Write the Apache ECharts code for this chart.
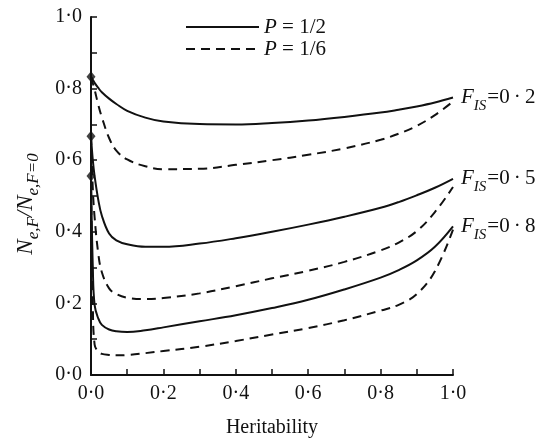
<!DOCTYPE html>
<html>
<head>
<meta charset="utf-8">
<script src="https://cdn.jsdelivr.net/npm/echarts@6/dist/echarts.min.js"></script>
<style>
  html, body { margin: 0; padding: 0; background: #fff; }
  #main { width: 540px; height: 443px; }
</style>
</head>
<body>
<div id="main"></div>
<script>
// heritability values shared by all curves
var herit = [0, 0.005, 0.01, 0.02, 0.03, 0.05, 0.07, 0.1, 0.15, 0.2, 0.3, 0.4, 0.5, 0.6, 0.7, 0.8, 0.85, 0.9, 0.95, 1.0];

// Ne,F / Ne,F=0, P = 1/2 (solid)
var solidF02 = [0.833, 0.825, 0.816, 0.802, 0.790, 0.772, 0.757, 0.738, 0.719, 0.708, 0.701, 0.700, 0.704, 0.711, 0.721, 0.733, 0.741, 0.750, 0.761, 0.775];
var solidF05 = [0.667, 0.600, 0.555, 0.490, 0.445, 0.395, 0.376, 0.365, 0.358, 0.358, 0.367, 0.382, 0.400, 0.420, 0.442, 0.467, 0.483, 0.502, 0.523, 0.548];
var solidF08 = [0.556, 0.300, 0.195, 0.158, 0.140, 0.127, 0.122, 0.120, 0.125, 0.133, 0.150, 0.167, 0.187, 0.210, 0.239, 0.272, 0.293, 0.320, 0.358, 0.415];

// P = 1/6 (dashed)
var dashF02 = [0.833, 0.815, 0.797, 0.755, 0.720, 0.662, 0.627, 0.602, 0.583, 0.575, 0.576, 0.587, 0.600, 0.615, 0.633, 0.657, 0.674, 0.696, 0.726, 0.764];
var dashF05 = [0.667, 0.520, 0.440, 0.340, 0.287, 0.242, 0.226, 0.216, 0.212, 0.215, 0.228, 0.248, 0.270, 0.291, 0.316, 0.348, 0.370, 0.402, 0.455, 0.525];
var dashF08 = [0.556, 0.200, 0.085, 0.065, 0.059, 0.056, 0.055, 0.056, 0.061, 0.067, 0.079, 0.095, 0.113, 0.131, 0.153, 0.180, 0.196, 0.226, 0.290, 0.406];

// values at h2 = 0, 1/(1+F)
var startVals = [0.833, 0.667, 0.556];
var fisLabels = ['0\u2009·\u20092', '0\u2009·\u20095', '0\u2009·\u20098'];
var legendNames = ['P = 1/2', 'P = 1/6'];

var font = 'Liberation Serif';

function pairs(ys) {
  return herit.map(function (h, i) { return [h, ys[i]]; });
}
function dot(v) {
  return v.toFixed(1).replace('.', '·');
}

var fisRich = {
  f: { fontFamily: font, fontStyle: 'italic', fontSize: 21, color: '#111', lineHeight: 24 },
  s: { fontFamily: font, fontStyle: 'italic', fontSize: 15, color: '#111', verticalAlign: 'bottom', lineHeight: 24, padding: [0, 1, -4, 0] },
  n: { fontFamily: font, fontSize: 21, color: '#111', lineHeight: 24 }
};

function solidSeries(ys, k) {
  return {
    name: legendNames[0],
    type: 'line',
    data: pairs(ys),
    symbol: 'none',
    smooth: 0.4,
    itemStyle: { color: '#111' },
    lineStyle: { color: '#111', width: 2, type: 'solid' },
    endLabel: {
      show: true,
      distance: 8,
      formatter: '{f|F}{s|IS}{n|=' + fisLabels[k] + '}',
      rich: fisRich
    },
    z: 3
  };
}
function dashSeries(ys) {
  return {
    name: legendNames[1],
    type: 'line',
    data: pairs(ys),
    symbol: 'none',
    smooth: 0.4,
    itemStyle: { color: '#111' },
    lineStyle: { color: '#111', width: 2, type: [9, 6] },
    z: 2
  };
}

var myChart = echarts.init(document.getElementById('main'));
myChart.setOption({
  animation: false,
  backgroundColor: '#fff',
  grid: { left: 91, right: 87, top: 17, bottom: 62, containLabel: false },
  legend: {
    data: legendNames,
    orient: 'vertical',
    left: 180,
    top: 11,
    itemWidth: 73,
    itemHeight: 22,
    itemGap: 0,
    itemStyle: { opacity: 0 },
    formatter: function (name) { return '{i|P}' + name.slice(1); },
    textStyle: {
      fontFamily: font, fontSize: 21, color: '#111', lineHeight: 22,
      rich: { i: { fontFamily: font, fontStyle: 'italic', fontSize: 21, color: '#111', lineHeight: 22 } }
    }
  },
  xAxis: {
    type: 'value',
    min: 0, max: 1, interval: 0.2,
    name: 'Heritability',
    nameLocation: 'middle',
    nameGap: 43,
    nameTextStyle: { fontFamily: font, fontSize: 20, color: '#111' },
    axisLine: { lineStyle: { color: '#111', width: 2 } },
    axisTick: { inside: true, length: 6, lineStyle: { color: '#111', width: 1.5 } },
    minorTick: { show: true, splitNumber: 2, length: 6, lineStyle: { color: '#111', width: 1.5 } },
    splitLine: { show: false },
    axisLabel: { formatter: dot, fontFamily: font, fontSize: 20, color: '#111', margin: 9 }
  },
  yAxis: {
    type: 'value',
    min: 0, max: 1, interval: 0.2,
    name: '{i|N}{s|e,F}{i|/N}{t|e,F=0}',
    nameLocation: 'middle',
    nameRotate: 90,
    nameGap: 52,
    nameTextStyle: {
      rich: {
        i: { fontFamily: font, fontStyle: 'italic', fontSize: 23, color: '#111', lineHeight: 26 },
        s: { fontFamily: font, fontStyle: 'italic', fontSize: 17, color: '#111', verticalAlign: 'bottom', lineHeight: 26, padding: [0, 0, -3, 0] },
        t: { fontFamily: font, fontStyle: 'italic', fontSize: 17, color: '#111', verticalAlign: 'bottom', lineHeight: 26, padding: [0, 16, -3, 0] }
      }
    },
    axisLine: { lineStyle: { color: '#111', width: 2 } },
    axisTick: { inside: true, length: 6, lineStyle: { color: '#111', width: 1.5 } },
    minorTick: { show: true, splitNumber: 2, length: 6, lineStyle: { color: '#111', width: 1.5 } },
    splitLine: { show: false },
    axisLabel: { formatter: dot, fontFamily: font, fontSize: 20, color: '#111', margin: 9 }
  },
  series: [
    solidSeries(solidF02, 0),
    solidSeries(solidF05, 1),
    solidSeries(solidF08, 2),
    dashSeries(dashF02),
    dashSeries(dashF05),
    dashSeries(dashF08),
    {
      name: 'start',
      type: 'scatter',
      data: startVals.map(function (v) { return [0, v]; }),
      symbol: 'diamond',
      symbolSize: [9, 11],
      itemStyle: { color: '#111' },
      z: 4
    }
  ]
});
</script>
</body>
</html>
